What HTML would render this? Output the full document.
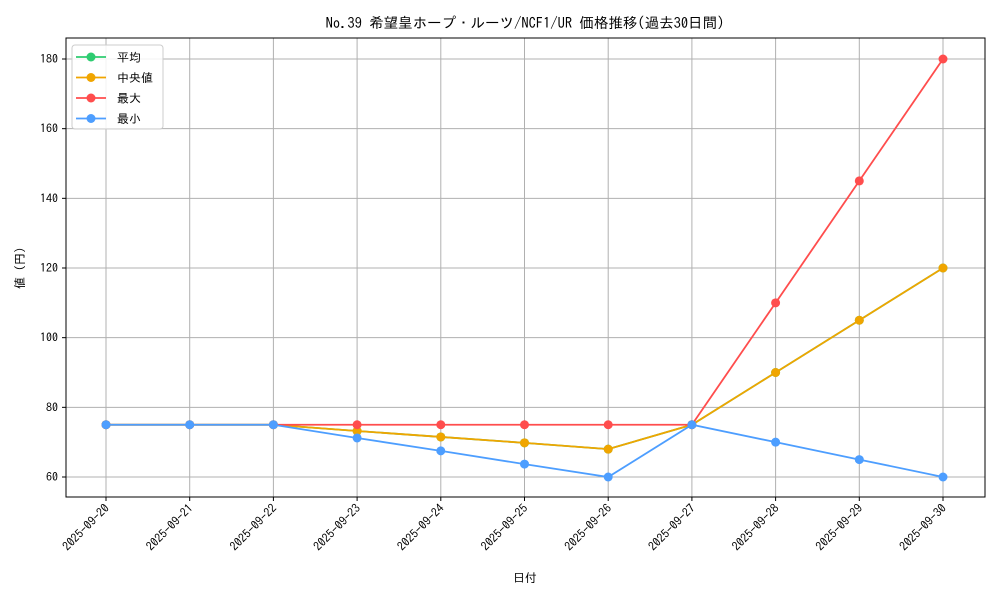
<!DOCTYPE html>
<html><head><meta charset="utf-8"><style>
body{margin:0;background:#fff;font-family:"IPAGothic","Noto Sans CJK JP",sans-serif}
svg text{font-family:"IPAGothic","Noto Sans CJK JP",monospace;font-size:12px;fill:#000}
</style></head><body>
<svg id="c" width="1000" height="600"></svg>
<script>
const dates=["2025-09-20","2025-09-21","2025-09-22","2025-09-23","2025-09-24","2025-09-25","2025-09-26","2025-09-27","2025-09-28","2025-09-29","2025-09-30"];
const avgVals=[75,75,75,73.2,71.5,69.8,68,75,90,105,120];
const medVals=[75,75,75,73.2,71.5,69.8,68,75,90,105,120];
const maxVals=[75,75,75,75,75,75,75,75,110,145,180];
const minVals=[75,75,75,71.2,67.5,63.7,60,75,70,65,60];
const yTicks=[60,80,100,120,140,160,180];
const L=66,R=985,T=38,B=497;
const x=i=>106+i*(943-106)/(dates.length-1);
const y=v=>477-(v-60)*(477-59)/120;
const s=document.getElementById('c'),NS="http://www.w3.org/2000/svg";
function el(t,a,p){const e=document.createElementNS(NS,t);for(const k in a)e.setAttribute(k,a[k]);(p||s).appendChild(e);return e;}
el('rect',{x:0,y:0,width:1000,height:600,fill:'#fff'});
dates.forEach((d,i)=>{
 const g=el('line',{x1:x(i),x2:x(i),y1:T,y2:B,stroke:'#b0b0b0','stroke-width':1});
 
 
 el('line',{x1:x(i),x2:x(i),y1:B,y2:B+4,stroke:'#000'});
 const t=el('text',{x:x(i)+4,y:B+12,'text-anchor':'end',transform:`rotate(-45 ${x(i)+4} ${B+12})`});
 t.textContent=d;
 
 
});
yTicks.forEach(v=>{
 const g=el('line',{x1:L,x2:R,y1:y(v),y2:y(v),stroke:'#b0b0b0','stroke-width':1});
 
 
 el('line',{x1:L-4,x2:L,y1:y(v),y2:y(v),stroke:'#000'});
 const t=el('text',{x:L-8,y:y(v)+4,'text-anchor':'end'});
 t.textContent=v;
 
 
});
const series=[["平均",avgVals,"#2ecc71"],["中央値",medVals,"#f0a500"],["最大",maxVals,"#ff4d4d"],["最小",minVals,"#4d9eff"]];
series.forEach(([n,vals,c])=>{
 const g=el('g',{});
 
 
 el('polyline',{points:vals.map((v,i)=>x(i)+','+y(v)).join(' '),fill:'none',stroke:c,'stroke-width':1.8},g);
 vals.forEach((v,i)=>{const p=el('circle',{cx:x(i),cy:y(v),r:4.5,fill:c},g);
 
 });
});
el('rect',{x:L,y:T,width:R-L,height:B-T,fill:'none',stroke:'#000','stroke-width':1});
const lg=el('g',{});


el('rect',{x:72,y:45,width:91,height:84,rx:3,fill:'#fff','fill-opacity':0.85,stroke:'#ccc'},lg);
series.forEach(([n,v,c],i)=>{const yy=57+i*20.5;
 el('line',{x1:76,x2:106,y1:yy,y2:yy,stroke:c,'stroke-width':1.8},lg);
 el('circle',{cx:91,cy:yy,r:4.5,fill:c},lg);
 const t=el('text',{x:117,y:yy+4.5},lg);t.textContent=n;
 
 });
let t=el('text',{x:525,y:28,'text-anchor':'middle','font-size':'14'});t.style.fontSize='14.5px';t.textContent="No.39 希望皇ホープ・ルーツ/NCF1/UR 価格推移(過去30日間)";


t=el('text',{x:525,y:582,'text-anchor':'middle'});t.textContent="日付";


t=el('text',{x:24,y:268,'text-anchor':'middle',transform:'rotate(-90 24 268)'});t.textContent="値 (円)";


</script>
</body></html>
